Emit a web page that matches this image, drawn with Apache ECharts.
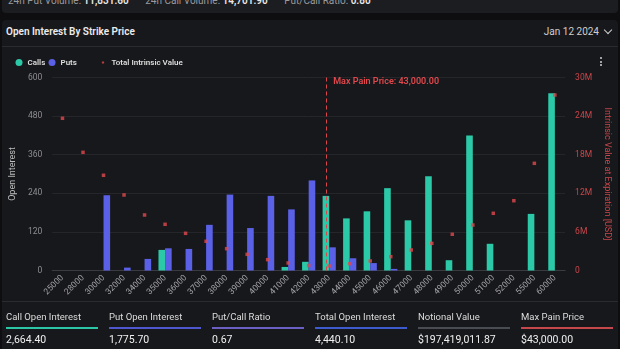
<!DOCTYPE html>
<html>
<head>
<meta charset="utf-8">
<script src="https://cdn.jsdelivr.net/npm/echarts@6/dist/echarts.min.js"></script>
<style>
  html, body { margin:0; padding:0; width:620px; height:349px; overflow:hidden; background:#0e0e10; font-family: Roboto, "Noto Sans", sans-serif; }
  .topcard { position:absolute; left:2px; top:-10px; width:616px; height:23px; background:#1c1d20; border-radius:4px; }
  .topcard .t { position:absolute; left:6px; top:5px; font-size:10px; color:#9a9a9e; white-space:nowrap; }
  .topcard .t b { color:#e8e8e8; font-weight:600; margin-right:14px; }
  .main { position:absolute; left:2px; top:20px; width:616px; height:340px; background:#17181b; border-radius:4px; }
  .title { position:absolute; left:6px; top:26px; font-size:10px; font-weight:600; color:#ececec; }
  .date { position:absolute; right:21px; top:26px; font-size:10px; color:#cfcfcf; }
  .chev { position:absolute; right:9px; top:27px; width:5px; height:5px; border-right:1.3px solid #cfcfcf; border-bottom:1.3px solid #cfcfcf; transform:rotate(45deg); }
  .sep { position:absolute; left:2px; width:616px; height:1px; background:#2a2b2f; }
  .dots { position:absolute; left:600px; top:57px; width:2px; }
  .dots i { display:block; width:2px; height:2px; background:#cfcfcf; margin-bottom:1.5px; border-radius:1px; }
  #chart { position:absolute; left:0; top:0; width:620px; height:349px; }
  .stat { position:absolute; top:311px; width:92px; }
  .stat .l { font-size:9.5px; color:#dcdcdc; height:12px; line-height:12px; }
  .stat .u { height:1.5px; margin-top:4px; }
  .stat .v { font-size:10.5px; color:#f0f0f0; margin-top:4px; }
</style>
</head>
<body>
<div class="topcard"><div class="t">24h Put Volume: <b>11,831.60</b> 24h Call Volume: <b>14,701.90</b> Put/Call Ratio: <b>0.80</b></div></div>
<div class="main"></div>
<div class="title">Open Interest By Strike Price</div>
<div class="date">Jan 12 2024</div>
<div class="chev"></div>
<div class="sep" style="top:46px"></div>
<div class="dots"><i></i><i></i><i></i></div>
<div class="sep" style="top:301px"></div>
<div id="chart"></div>
<div id="stats"></div>
<script>
const categories = ['25000','28000','30000','32000','34000','35000','36000','37000','38000','39000','40000','41000','42000','43000','44000','45000','46000','47000','48000','49000','50000','51000','52000','55000','60000'];
const calls = [0,0,0,0,0,64,0,0,0,0,0,11,27,232,162,184,256,156,293,32,420,83,0,176,551];
const puts = [0,0,234,9,36,69,67,142,236,132,232,190,280,72,38,23,5,0,0,0,0,0,0,0,0];
const intrinsicM = [23.66,18.37,14.8,11.74,8.63,7.18,5.78,4.54,3.39,2.51,1.68,1.17,0.78,0.70,1.06,1.48,2.15,3.19,4.22,5.63,7.07,8.89,10.85,16.66,27.28];
const maxPain = '43000';
const maxPainLabel = 'Max Pain Price: 43,000.00';
const statLabels = ['Call Open Interest','Put Open Interest','Put/Call Ratio','Total Open Interest','Notional Value','Max Pain Price'];
const statValues = ['2,664.40','1,775.70','0.67','4,440.10','$197,419,011.87','$43,000.00'];
const statColors = ['#2cc6a6','#4f57cf','#6c5fc4','#3d5bcc','#4a4c53','#c4474b'];

const statsEl = document.getElementById('stats');
statLabels.forEach((l, i) => {
  const d = document.createElement('div');
  d.className = 'stat';
  d.style.left = (6 + i * 103) + 'px';
  d.innerHTML = '<div class="l">' + l + '</div><div class="u" style="background:' + statColors[i] + '"></div><div class="v">' + statValues[i] + '</div>';
  statsEl.appendChild(d);
});

const CALL = '#2cc9a8', PUT = '#5b61e6', RED = '#e0484d';
const legendBase = {
  top: 58.5, padding: 0, itemWidth: 7, itemHeight: 7,
  textStyle: { color: '#dedede', fontSize: 8, fontWeight: 600 }
};
const chart = echarts.init(document.getElementById('chart'), null, { renderer: 'canvas' });
chart.setOption({
  backgroundColor: 'transparent',
  animation: false,
  textStyle: { fontFamily: 'Roboto' },
  legend: [
    Object.assign({}, legendBase, { left: 15.5, data: [{ name: 'Calls', icon: 'circle' }] }),
    Object.assign({}, legendBase, { left: 48.5, data: [{ name: 'Puts', icon: 'circle' }] }),
    Object.assign({}, legendBase, { left: 99.5, data: [{ name: 'Total Intrinsic Value', icon: 'path://M0,0h0.01v0.01h-0.01zM3.4,3.4h3.2v3.2h-3.2zM9.99,9.99h0.01v0.01h-0.01z' }] })
  ],
  grid: { left: 45, right: 48, top: 77.5, bottom: 78.5 },
  xAxis: {
    type: 'category', data: categories,
    axisLine: { lineStyle: { color: '#3a3b40' } },
    axisTick: { show: false },
    axisLabel: { color: '#a2a2a6', fontSize: 8.5, rotate: 45, margin: 6, interval: 0 }
  },
  yAxis: [
    {
      type: 'value', min: 0, max: 600, interval: 120,
      name: 'Open Interest', nameLocation: 'middle', nameGap: 29,
      nameTextStyle: { color: '#bdbdbd', fontSize: 9 },
      axisLabel: { color: '#8e8e92', fontSize: 8.5, margin: 10 },
      splitLine: { lineStyle: { color: '#25262a' } },
      axisLine: { show: false }, axisTick: { show: false }
    },
    {
      type: 'value', min: 0, max: 30000000, interval: 6000000,
      name: 'Intrinsic Value at Expiration [USD]', nameLocation: 'middle', nameGap: 30, nameRotate: -90,
      nameTextStyle: { color: '#c9474b', fontSize: 9 },
      axisLabel: { color: '#c9474b', fontSize: 8.5, margin: 10, formatter: v => v === 0 ? '0' : (v / 1e6) + 'M' },
      splitLine: { show: false },
      axisLine: { show: false }, axisTick: { show: false }
    }
  ],
  series: [
    {
      name: 'Calls', type: 'bar', data: calls, barWidth: 6.6, barGap: '0%',
      itemStyle: { color: CALL },
      markLine: {
        silent: true, symbol: 'none',
        lineStyle: { color: '#d9464b', type: [4, 3], width: 1 },
        label: { show: false },
        data: [{ xAxis: maxPain }]
      }
    },
    { name: 'Puts', type: 'bar', data: puts, barWidth: 6.6, itemStyle: { color: PUT } },
    {
      name: 'Total Intrinsic Value', type: 'scatter', yAxisIndex: 1,
      data: intrinsicM.map(v => v * 1e6), symbol: 'rect', symbolSize: 3.5,
      itemStyle: { color: RED }, z: 5
    }
  ]
});
const px = chart.convertToPixel({ xAxisIndex: 0 }, maxPain);
chart.setOption({
  graphic: [{
    type: 'text', left: px + 4, top: 77, silent: true,
    style: { text: maxPainLabel, fill: '#e0484d', font: '600 9px Roboto' }
  }]
});
</script>
</body>
</html>
